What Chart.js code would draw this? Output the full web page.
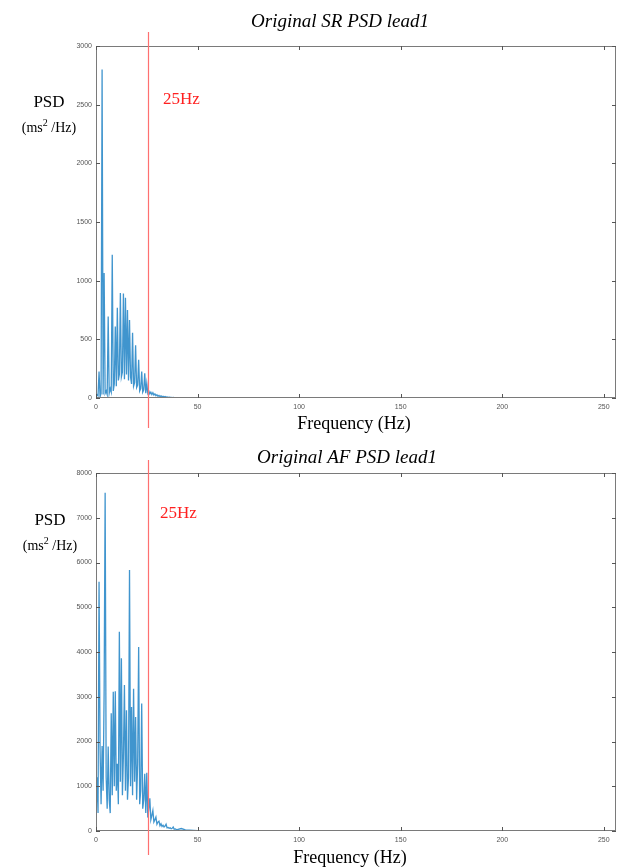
<!DOCTYPE html>
<html>
<head>
<meta charset="utf-8">
<script src="https://cdn.jsdelivr.net/npm/chart.js@4/dist/chart.umd.min.js"></script>
<style>
  html, body { margin: 0; padding: 0; background: #fff; }
  #wrap { position: relative; width: 617px; height: 867px; }
  canvas { position: absolute; left: 0; }
</style>
</head>
<body>
<div id="wrap">
  <canvas id="c1" width="617" height="433" style="top:0px;width:617px;height:433px"></canvas>
  <canvas id="c2" width="617" height="434" style="top:433px;width:617px;height:434px"></canvas>
</div>
<script>
// Frequency grid (Hz)
const freq = [0,0.5,1,1.5,2,2.5,3,3.5,4,4.5,5,5.5,6,6.5,7,7.5,8,8.5,9,9.5,
  10,10.5,11,11.5,12,12.5,13,13.5,14,14.5,15,15.5,16,16.5,17,17.5,18,18.5,19,19.5,
  20,20.5,21,21.5,22,22.5,23,23.5,24,24.5,25,25.5,26,26.5,27,27.5,28,28.5,29,29.5,
  30,30.5,31,31.5,32,32.5,33,33.5,34,34.5,35,35.5,36,36.5,37,37.5,38,38.5,39,39.5,
  40,42,44,46,50,60,80,100,150,200,256];

// Sinus rhythm PSD (ms^2/Hz)
const psdSR = [0,30,20,225,10,40,2800,30,1065,40,60,30,695,40,80,50,1220,60,120,610,
  100,770,150,200,895,180,220,890,160,855,200,750,150,665,180,120,555,100,130,450,
  90,110,325,60,80,225,50,70,210,40,125,40,60,35,50,30,45,25,35,20,
  28,15,22,12,18,10,14,8,12,7,9,6,8,5,6,4,5,4,4,3,
  3,3,2,2,2,1,1,1,1,1,1];

// Atrial fibrillation PSD (ms^2/Hz)
const psdAF = [300,1200,400,5570,1840,600,1900,900,3100,7560,1200,500,1890,700,400,2630,800,3110,1000,3120,
  900,1500,600,4450,1100,3860,800,1700,3260,900,2700,700,1200,5830,1000,2770,800,3180,1100,2550,
  700,1500,4110,600,900,2850,500,700,1280,400,1300,300,500,730,250,350,460,200,250,310,
  150,200,220,120,160,100,130,90,110,150,70,80,60,70,50,60,90,40,45,35,
  30,55,25,20,10,5,3,2,2,1,1];

const xTicks = [0,50,100,150,200,250];
const yTicksSR = [0,500,1000,1500,2000,2500,3000];
const yTicksAF = [0,1000,2000,3000,4000,5000,6000,7000,8000];
const markerHz = 25;

function makeChart(id, title, psd, yTicks, cfg) {
  const annot = {
    id: 'annot',
    afterDraw(chart) {
      const ctx = chart.ctx;
      const a = chart.chartArea;
      const xs = chart.scales.x, ys = chart.scales.y;
      ctx.save();
      // box
      ctx.strokeStyle = '#7a7a7a';
      ctx.lineWidth = 1;
      ctx.strokeRect(a.left + 0.5, a.top + 0.5, a.right - a.left - 1, a.bottom - a.top - 1);
      // inward ticks
      ctx.strokeStyle = '#555';
      ctx.beginPath();
      xTicks.forEach(v => {
        const px = Math.round(xs.getPixelForValue(v)) + 0.5;
        ctx.moveTo(px, a.bottom); ctx.lineTo(px, a.bottom - 4);
        ctx.moveTo(px, a.top); ctx.lineTo(px, a.top + 4);
      });
      yTicks.forEach(v => {
        const py = Math.round(ys.getPixelForValue(v)) + 0.5;
        ctx.moveTo(a.left, py); ctx.lineTo(a.left + 4, py);
        ctx.moveTo(a.right, py); ctx.lineTo(a.right - 4, py);
      });
      ctx.stroke();
      // red 25 Hz line
      const rx = Math.round(xs.getPixelForValue(markerHz)) + 1.5;
      ctx.strokeStyle = '#ff7070';
      ctx.lineWidth = 1.2;
      ctx.beginPath();
      ctx.moveTo(rx, cfg.redTop); ctx.lineTo(rx, cfg.redBottom);
      ctx.stroke();
      // texts
      ctx.fillStyle = '#000';
      ctx.textAlign = 'center';
      ctx.textBaseline = 'middle';
      ctx.font = 'italic 19px "Liberation Serif", "DejaVu Serif", serif';
      ctx.fillText(title, cfg.titleX, cfg.titleY);
      ctx.font = '17px "Liberation Serif", serif';
      ctx.fillText('PSD', cfg.psdX, cfg.psdY);
      // (ms2 /Hz) with superscript
      ctx.font = '14px "Liberation Serif", serif';
      const p1 = '(ms', p2 = ' /Hz)';
      ctx.textAlign = 'left';
      const w1 = ctx.measureText(p1).width;
      ctx.font = '10px "Liberation Serif", serif';
      const ws = ctx.measureText('2').width;
      ctx.font = '14px "Liberation Serif", serif';
      const w2 = ctx.measureText(p2).width;
      const total = w1 + ws + w2;
      let sx = cfg.psdX - total / 2;
      ctx.fillText(p1, sx, cfg.unitY);
      ctx.font = '10px "Liberation Serif", serif';
      ctx.fillText('2', sx + w1, cfg.unitY - 5);
      ctx.font = '14px "Liberation Serif", serif';
      ctx.fillText(p2, sx + w1 + ws, cfg.unitY);
      // 25Hz label
      ctx.fillStyle = '#ff2020';
      ctx.font = '17px "Liberation Serif", serif';
      ctx.textAlign = 'left';
      ctx.fillText('25Hz', cfg.hzX, cfg.hzY);
      // x axis title
      ctx.fillStyle = '#000';
      ctx.textAlign = 'center';
      ctx.font = '18px "Liberation Serif", serif';
      ctx.fillText('Frequency (Hz)', cfg.xtX, cfg.xtY);
      ctx.restore();
    }
  };

  return new Chart(document.getElementById(id), {
    type: 'scatter',
    data: {
      datasets: [{
        data: freq.map((f, i) => ({ x: f, y: psd[i] })),
        showLine: true,
        borderColor: 'rgba(0,114,189,0.75)',
        borderWidth: 1.3,
        pointRadius: 0,
        tension: 0
      }]
    },
    options: {
      responsive: false,
      animation: false,
      events: [],
      layout: { padding: { top: cfg.top, right: 1, left: 0, bottom: 0 } },
      plugins: { legend: { display: false }, tooltip: { enabled: false }, title: { display: false } },
      scales: {
        x: {
          type: 'linear', min: 0, max: 256,
          afterBuildTicks: s => { s.ticks = xTicks.map(v => ({ value: v })); },
          afterFit: s => { s.height = cfg.xh; },
          grid: { display: false, drawTicks: false },
          border: { display: false },
          ticks: { color: '#555', font: { size: 7, family: 'Liberation Sans' }, padding: 5, maxRotation: 0,
                   callback: v => String(v) }
        },
        y: {
          type: 'linear', min: 0, max: yTicks[yTicks.length - 1],
          afterBuildTicks: s => { s.ticks = yTicks.map(v => ({ value: v })); },
          afterFit: s => { s.width = 96; },
          grid: { display: false, drawTicks: false },
          border: { display: false },
          ticks: { color: '#555', font: { size: 7, family: 'Liberation Sans' }, padding: 4,
                   callback: v => String(v) }
        }
      }
    },
    plugins: [annot]
  });
}

makeChart('c1', 'Original SR PSD lead1', psdSR, yTicksSR, {
  top: 46, xh: 35, redTop: 32, redBottom: 428,
  titleX: 340, titleY: 22, psdX: 49, psdY: 103, unitY: 128,
  hzX: 163, hzY: 100, xtX: 354, xtY: 424
});
makeChart('c2', 'Original AF PSD lead1', psdAF, yTicksAF, {
  top: 40, xh: 36, redTop: 27, redBottom: 422,
  titleX: 347, titleY: 25, psdX: 50, psdY: 88, unitY: 113,
  hzX: 160, hzY: 81, xtX: 350, xtY: 425
});
</script>
</body>
</html>
